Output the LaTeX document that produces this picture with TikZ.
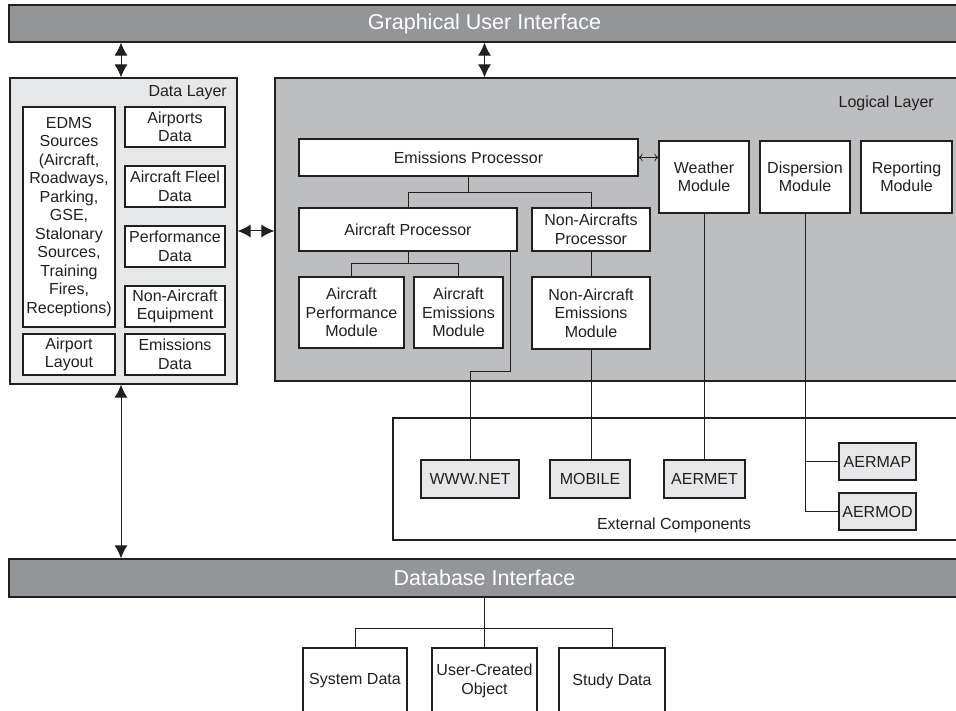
\documentclass[tikz,border=0pt]{standalone}
\usepackage{fontspec}
\setmainfont{Liberation Sans}
\usetikzlibrary{arrows.meta}
\definecolor{bardark}{HTML}{939598}
\definecolor{logicgray}{HTML}{BCBEC0}
\definecolor{paleg}{HTML}{E6E7E8}
\definecolor{ink}{HTML}{231F20}
\begin{document}
\begin{tikzpicture}[x=1pt,y=-1pt,
  font=\fontsize{16}{18.5}\selectfont,
  box/.style={draw=ink, line width=1.3pt, fill=white, inner sep=0pt, align=center, text=ink},
  extbox/.style={box, fill=paleg},
  bar/.style={draw=ink, line width=1.3pt, fill=bardark, text=white, inner sep=0pt,
    font=\fontsize{21.5}{24}\selectfont},
  layer/.style={draw=ink, line width=1.3pt, inner sep=0pt},
  lbl/.style={text=ink, inner sep=0pt},
  conn/.style={draw=ink, line width=1pt},
  dbl/.style={draw=ink, line width=1pt, {Latex[length=13pt,width=13pt]}-{Latex[length=13pt,width=13pt]}},
  thinarr/.style={draw=ink, line width=0.7pt, {To[length=4pt,width=8pt]}-{To[length=4pt,width=8pt]}}
]
\useasboundingbox (0,0) rectangle (956,711);
\clip (0,0) rectangle (956,711);

% bars
\node[bar, minimum width=951pt, minimum height=37pt] (gui) at (484.5,23.5) {Graphical User Interface};
\node[bar, minimum width=951pt, minimum height=38pt] (db) at (484.5,578) {Database Interface};

% layers
\node[layer, fill=paleg, minimum width=227pt, minimum height=306pt] (dl) at (123.5,231) {};
\node[layer, fill=logicgray, minimum width=685pt, minimum height=303pt] (ll) at (617.5,229.5) {};
\node[box, minimum width=567pt, minimum height=122pt] (ext) at (676.5,479) {};

\node[lbl, anchor=east] (dllabel) at (227,93) {Data Layer};
\node[lbl, anchor=east] (lllabel) at (934,103) {Logical Layer};
\node[lbl] (extlabel) at (674,525) {External Components};

% data layer boxes
\node[box, minimum width=92pt, minimum height=220pt] (edms) at (69,217)
  {EDMS\\Sources\\(Aircraft,\\Roadways,\\Parking,\\GSE,\\Stalonary\\Sources,\\Training\\Fires,\\Receptions)};
\node[box, minimum width=100pt, minimum height=40pt] (airports) at (175,127) {Airports\\Data};
\node[box, minimum width=100pt, minimum height=41pt] (fleel) at (175,186.5) {Aircraft Fleel\\Data};
\node[box, minimum width=100pt, minimum height=41pt] (perf) at (175,246.5) {Performance\\Data};
\node[box, minimum width=100pt, minimum height=41pt] (naeq) at (175,306.5) {Non-Aircraft\\Equipment};
\node[box, minimum width=92pt, minimum height=41pt] (layout) at (69,354.5) {Airport\\Layout};
\node[box, minimum width=100pt, minimum height=41pt] (emdata) at (175,354.5) {Emissions\\Data};

% logical layer boxes
\node[box, minimum width=339pt, minimum height=37pt] (ep) at (468.5,157.5) {Emissions Processor};
\node[box, minimum width=90pt, minimum height=72pt] (weather) at (704,177) {Weather\\Module};
\node[box, minimum width=90pt, minimum height=72pt] (disp) at (805,177) {Dispersion\\Module};
\node[box, minimum width=91pt, minimum height=72pt] (report) at (906.5,177) {Reporting\\Module};
\node[box, minimum width=218pt, minimum height=43pt] (ap) at (408,229.5) {Aircraft Processor};
\node[box, minimum width=118pt, minimum height=43pt] (nap) at (591,229.5) {Non-Aircrafts\\Processor};
\node[box, minimum width=105pt, minimum height=71pt] (apm) at (351.5,312.5) {Aircraft\\Performance\\Module};
\node[box, minimum width=89pt, minimum height=71pt] (aem) at (458.5,312.5) {Aircraft\\Emissions\\Module};
\node[box, minimum width=118pt, minimum height=72pt] (naem) at (591,313) {Non-Aircraft\\Emissions\\Module};

% external components
\node[extbox, minimum width=98pt, minimum height=38pt] (www) at (470,479) {WWW.NET};
\node[extbox, minimum width=80pt, minimum height=38pt] (mobile) at (590,479) {MOBILE};
\node[extbox, minimum width=81pt, minimum height=38pt] (aermet) at (704.5,479) {AERMET};
\node[extbox, minimum width=77pt, minimum height=37pt] (aermap) at (877.5,461.5) {AERMAP};
\node[extbox, minimum width=77pt, minimum height=37pt] (aermod) at (877.5,511.5) {AERMOD};

% database boxes
\node[box, minimum width=104pt, minimum height=66pt] (sysdata) at (355,681) {System Data};
\node[box, minimum width=105pt, minimum height=66pt] (ucobj) at (484.5,681) {User-Created\\Object};
\node[box, minimum width=106pt, minimum height=66pt] (study) at (612,681) {Study Data};

% arrows
\draw[dbl] ([xshift=-2.5pt]dl.north |- gui.south) -- ([xshift=-2.5pt]dl.north);
\draw[dbl] (gui.south) -- (gui.south |- ll.north);
\draw[dbl] (dl.east) -- (dl.east -| ll.west);
\draw[dbl] ([xshift=-2.5pt]dl.south) -- ([xshift=-2.5pt]dl.south |- db.north);
\draw[thinarr] (ep.east) -- (ep.east -| weather.west);

% trees
\draw[conn] (ep.south) -- ++(0,16) coordinate (j1);
\draw[conn] (j1) -| (ap.north);
\draw[conn] (j1) -| (nap.north);
\draw[conn] (ap.south) -- ++(0,12) coordinate (j2);
\draw[conn] (j2) -| (apm.north);
\draw[conn] (j2) -| (aem.north);
\draw[conn] (nap.south) -- (naem.north);
\draw[conn] ([xshift=-7pt]ap.south east) -- ++(0,120) -| (www.north);
\draw[conn] (naem.south) -- (naem.south |- mobile.north);
\draw[conn] (weather.south) -- (weather.south |- aermet.north);
\draw[conn] (disp.south) |- (aermap.west);
\draw[conn] (disp.south) |- (aermod.west);
\draw[conn] (db.south) -- ++(0,31) coordinate (j3);
\draw[conn] (j3) -| (sysdata.north);
\draw[conn] (j3) -- (ucobj.north);
\draw[conn] (j3) -| (study.north);
\end{tikzpicture}
\end{document}
